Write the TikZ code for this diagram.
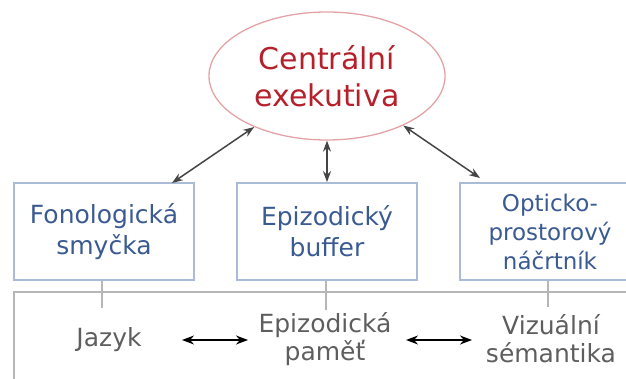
\documentclass[tikz,border=0pt]{standalone}
\usepackage{fontspec}
\setmainfont{DejaVu Sans}
\usetikzlibrary{shapes.geometric,arrows.meta,calc}
\definecolor{cered}{HTML}{B5202A}
\definecolor{ceedge}{HTML}{E3A3A6}
\definecolor{boxedge}{HTML}{A9BBD6}
\definecolor{boxtext}{HTML}{3A5A92}
\definecolor{lowtext}{HTML}{5E5E5E}
\definecolor{lowedge}{HTML}{B6B6B6}
\definecolor{arrgray}{HTML}{454545}
\tikzset{
  centre/.style={ellipse, draw=ceedge, line width=1.3pt, minimum width=236pt, minimum height=128pt, inner sep=0pt, text=cered, font=\fontsize{30}{37}\selectfont, align=center},
  compbox/.style={rectangle, draw=boxedge, line width=1.8pt, minimum width=180pt, minimum height=97pt, inner sep=0pt, text=boxtext, font=\fontsize{25}{31}\selectfont, align=center},
  smallbox/.style={compbox, font=\fontsize{23}{29}\selectfont},
  lowlabel/.style={inner sep=0pt, text=lowtext, font=\fontsize{25}{28}\selectfont, align=center},
  link/.style={draw=lowedge, line width=1.8pt},
  toparrow/.style={draw=arrgray, line width=1.5pt, {Stealth[length=11pt,width=8pt]}-{Stealth[length=11pt,width=8pt]}},
  lowarrow/.style={draw=black, line width=1.5pt, {Stealth[length=12pt,width=9pt]}-{Stealth[length=12pt,width=9pt]}}
}
\begin{document}
\begin{tikzpicture}[x=1pt,y=1pt]
\useasboundingbox (0,0) rectangle (626,-379);
% lower frame
\draw[lowedge, line width=2.2pt] (660,-292) -- (14,-292) -- (14,-400);
% central executive
\node[centre] (ce) at (327,-76) {Centrální\\exekutiva};
% boxes
\node[compbox] (fon) at (104,-231.5) {Fonologická\\smyčka};
\node[compbox] (epi) at (327,-231.5) {Epizodický\\buffer};
\node[smallbox] (opt) at (550,-231.5) {Opticko-\\prostorový\\náčrtník};
% lower labels
\node[lowlabel] (jaz) at (109,-340) {Jazyk};
\node[lowlabel] (epm) at (325,-339) {Epizodická\\paměť};
\node[lowlabel] (viz) at (551,-339) {Vizuální\\sémantika};
% links from boxes to labels
\coordinate (jt) at (102,-308);
\coordinate (et) at (326,-310);
\coordinate (vt) at (548,-307);
\draw[link] (fon.south -| jt) -- (jt);
\draw[link] (epi.south -| et) -- (et);
\draw[link] (opt.south -| vt) -- (vt);
% arrows from central executive
\coordinate (fa) at (172,-183);
\coordinate (oa) at (480,-178);
\draw[toparrow] (ce.215) -- (fa);
\draw[toparrow] (ce.south) -- (epi.north);
\draw[toparrow] (ce.-33) -- (oa);
% lower arrows
\coordinate (a1s) at (182,-340);
\coordinate (a1e) at (248,-340);
\coordinate (a2s) at (406,-340);
\coordinate (a2e) at (472,-340);
\draw[lowarrow] (a1s) -- (a1e);
\draw[lowarrow] (a2s) -- (a2e);
\end{tikzpicture}
\end{document}
